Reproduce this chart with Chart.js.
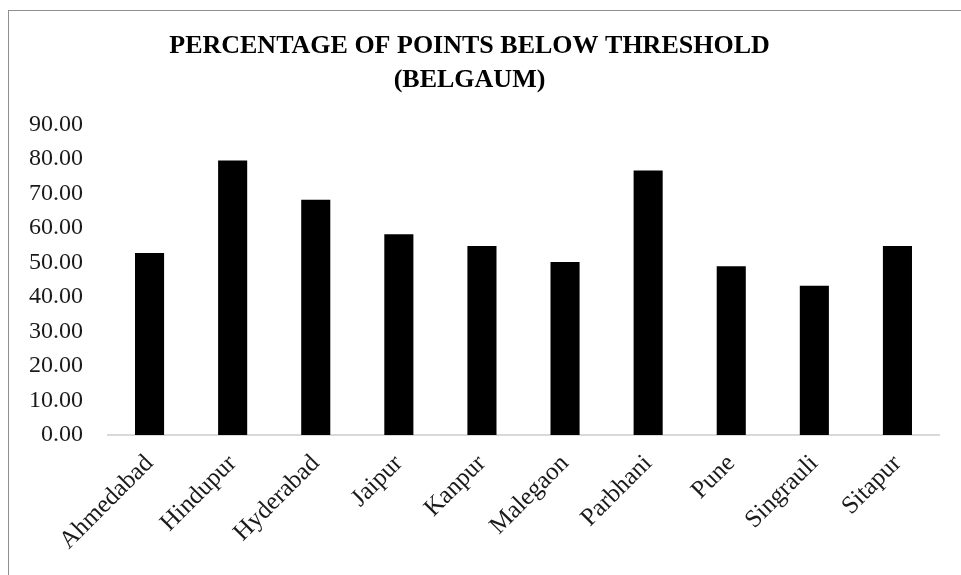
<!DOCTYPE html>
<html>
<head>
<meta charset="utf-8">
<script src="https://cdn.jsdelivr.net/npm/chart.js@4/dist/chart.umd.min.js"></script>
<style>
  html, body { margin: 0; padding: 0; background: #fff; overflow: hidden; }
  #wrap { position: relative; width: 961px; height: 575px; }
  #frame { position: absolute; left: 8px; top: 10px; width: 1100px; height: 700px;
           border: 1px solid #8f8f8f; box-sizing: border-box; pointer-events: none; }
  canvas { position: absolute; left: 0; top: 0; }
</style>
</head>
<body>
<div id="wrap">
  <canvas id="chart" width="961" height="575"></canvas>
  <div id="frame"></div>
</div>
<script>
// Cities and the share of points below threshold for each
const cities = ["Ahmedabad", "Hindupur", "Hyderabad", "Jaipur", "Kanpur",
                "Malegaon", "Parbhani", "Pune", "Singrauli", "Sitapur"];
const percentBelow = [52.8, 79.6, 68.2, 58.2, 54.8, 50.2, 76.7, 48.9, 43.3, 54.8];
const titleLines = ["PERCENTAGE OF POINTS BELOW THRESHOLD", "(BELGAUM)"];
const yMin = 0, yMax = 90, yStep = 10;

const serif = "'Liberation Serif', 'Times New Roman', serif";

new Chart(document.getElementById("chart"), {
  type: "bar",
  data: {
    labels: cities,
    datasets: [{
      data: percentBelow,
      backgroundColor: "#000000",
      borderWidth: 0,
      categoryPercentage: 1.0,
      barPercentage: 0.35
    }]
  },
  options: {
    responsive: false,
    animation: false,
    layout: { padding: { left: 0, right: 22, top: 0, bottom: 0 } },
    plugins: {
      legend: { display: false },
      tooltip: { enabled: false },
      title: {
        display: true,
        text: titleLines,
        color: "#000",
        font: { family: serif, size: 26, weight: "bold", lineHeight: 1.32 },
        padding: { top: 29, bottom: 27 }
      }
    },
    scales: {
      x: {
        grid: { display: false, drawTicks: false },
        border: { display: true, color: "#d9d9d9", width: 2 },
        ticks: {
          color: "#1a1a1a",
          font: { family: serif, size: 25 },
          minRotation: 45,
          maxRotation: 45,
          padding: 14,
          autoSkip: false
        },
        afterFit: (scale) => { scale.height = 140; }
      },
      y: {
        min: yMin,
        max: yMax,
        grid: { display: false, drawTicks: false },
        border: { display: false },
        ticks: {
          stepSize: yStep,
          color: "#1a1a1a",
          font: { family: serif, size: 24 },
          padding: 25,
          callback: (v) => Number(v).toFixed(2)
        },
        afterFit: (scale) => { scale.width = 108; }
      }
    }
  }
});
</script>
</body>
</html>
